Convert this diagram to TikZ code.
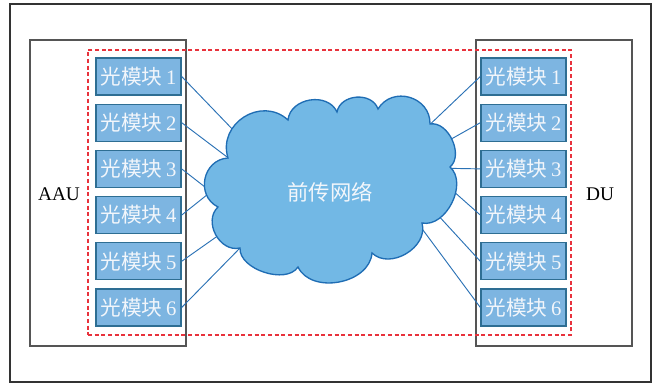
\documentclass[tikz,border=0pt]{standalone}
\usepackage{fontspec}
\setmainfont{Liberation Serif}
\newfontfamily\cjk{Noto Sans CJK SC}
\definecolor{modfill}{HTML}{7DB5E1}
\definecolor{moddraw}{HTML}{2E6E93}
\definecolor{cloudfill}{HTML}{72B8E5}
\definecolor{clouddraw}{HTML}{1F6DB4}
\definecolor{linkcol}{HTML}{2B72B5}
\definecolor{framecol}{HTML}{333333}
\definecolor{boxcol}{HTML}{555555}
\definecolor{dashred}{HTML}{E8323C}
\definecolor{modtext}{HTML}{F2F6FB}
\begin{document}
\begin{tikzpicture}[x=0.75pt,y=0.75pt,
  modbox/.style={draw=moddraw,fill=modfill,line width=1pt,minimum width=63.75pt,minimum height=27.75pt,inner sep=0pt,text=modtext,font=\fontsize{15.5pt}{15.5pt}\selectfont},
  unitbox/.style={draw=boxcol,line width=0.8pt},
  link/.style={draw=linkcol,line width=0.7pt},
  lbl/.style={font=\fontsize{14.5pt}{14.5pt}\selectfont,text=black}]
\useasboundingbox (0,0) rectangle (656,384);
% frames
\draw[framecol,line width=0.8pt] (10,2) rectangle (651,380);
\node[unitbox,minimum width=117pt,minimum height=229.5pt,inner sep=0pt] (aau) at (108,191) {};
\node[unitbox,minimum width=117pt,minimum height=229.5pt,inner sep=0pt] (du) at (554,191) {};
\node[draw=dashred,dashed,dash pattern=on 3pt off 2pt,line width=0.8pt,minimum width=362.25pt,minimum height=213.75pt,inner sep=0pt] (red) at (329.5,191.5) {};
\node[lbl] (aaut) at (59,190) {AAU};
\node[lbl] (dut) at (600,190) {DU};
% modules
\foreach \i/\y in {1/307.5,2/261.3,3/215.1,4/168.9,5/122.7,6/76.5}{
  \node[modbox] (l\i) at (138.5,\y) {{\cjk 光模块}\,\i};
  \node[modbox] (r\i) at (523.5,\y) {{\cjk 光模块}\,\i};
}
% cloud attach points
\coordinate (cl1) at (237,250);
\coordinate (cl2) at (231,224);
\coordinate (cl3) at (211,192.3);
\coordinate (cl4) at (211,192.3);
\coordinate (cl5) at (219,149);
\coordinate (cl6) at (242,138);
\coordinate (cr1) at (428,257.7);
\coordinate (cr2) at (446,242);
\coordinate (cr3) at (447,215.7);
\coordinate (cr4) at (452,194);
\coordinate (cr5) at (439,167.7);
\coordinate (cr6) at (420,158);
\foreach \i in {1,...,6}{
  \draw[link] (l\i.east) -- (cl\i);
  \draw[link] (r\i.west) -- (cr\i);
}
% cloud
\draw[draw=clouddraw,fill=cloudfill,line width=1pt]
  (228,226) to[bend left=75,looseness=1.3] (288,264)
  to[bend left=75,looseness=1.15] (337,272)
  to[bend left=75,looseness=1.15] (378,275)
  to[bend left=75,looseness=1.3] (430,260)
  to[bend left=75,looseness=1.0] (450,217)
  to[bend left=75,looseness=1.0] (422,161)
  to[bend left=75,looseness=1.1] (372,131)
  to[bend left=75,looseness=1.05] (298,117)
  to[bend left=75,looseness=0.9] (240,136)
  to[bend left=75,looseness=1.15] (218,177)
  to[bend left=75,looseness=1.3] (228,226) -- cycle;
\node[text=modtext,font=\cjk\fontsize{16pt}{16pt}\selectfont] (net) at (330,192) {前传网络};
\end{tikzpicture}
\end{document}
